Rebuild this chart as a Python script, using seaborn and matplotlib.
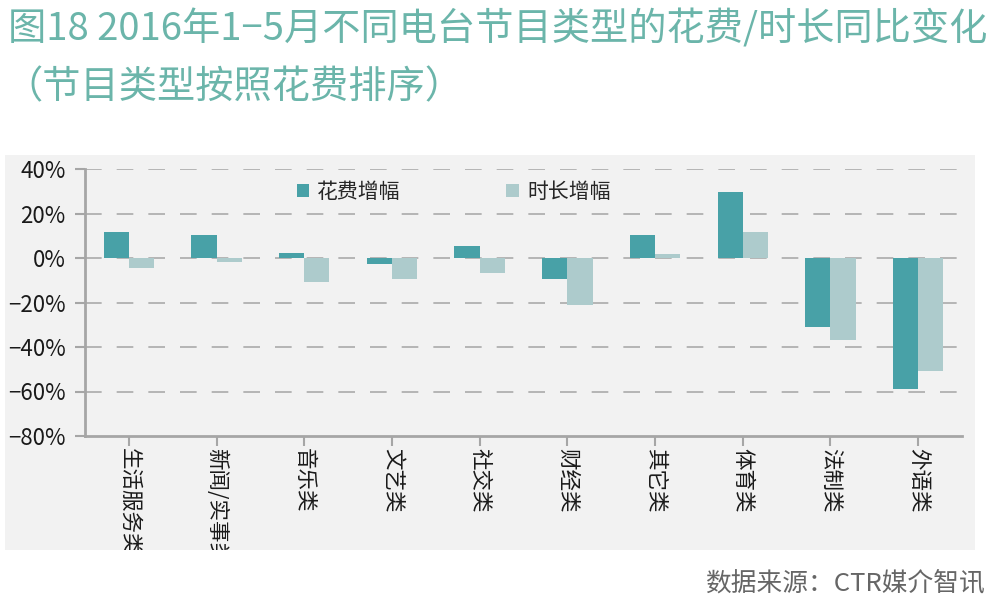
import matplotlib
matplotlib.use("Agg")
import matplotlib.pyplot as plt
import seaborn as sns
import pandas as pd
from matplotlib.patches import Rectangle
from matplotlib.ticker import FuncFormatter

categories = ["生活服务类", "新闻/实事类", "音乐类", "文艺类", "社交类",
              "财经类", "其它类", "体育类", "法制类", "外语类"]
spend_growth = [11.7, 10.2, 2.2, -2.5, 5.4, -9.3, 10.5, 29.5, -31.2, -58.7]
duration_growth = [-4.3, -1.6, -10.6, -9.3, -6.6, -21.0, 1.6, 11.7, -36.9, -51.0]
series_names = ["花费增幅", "时长增幅"]
yticks = [40, 20, 0, -20, -40, -60, -80]

df = pd.DataFrame({
    "category": categories * 2,
    "value": spend_growth + duration_growth,
    "series": [series_names[0]] * len(categories) + [series_names[1]] * len(categories),
})

sns.set_theme(style="white")
plt.rcParams["font.family"] = ["Noto Sans CJK SC", "DejaVu Sans"]
plt.rcParams["axes.unicode_minus"] = True

W, H = 998, 611
fig = plt.figure(figsize=(W / 100, H / 100), dpi=100)
fig.patch.set_facecolor("white")

# grey panel
fig.patches.append(Rectangle((5 / W, 1 - 550 / H), 970 / W, 395 / H,
                             transform=fig.transFigure, facecolor="#F2F2F2",
                             edgecolor="none", zorder=-10))

ax = fig.add_axes([85 / W, 1 - 436 / H, 877 / W, 267 / H])
ax.set_facecolor("none")

palette = {series_names[0]: "#48A1A7", series_names[1]: "#ADCBCC"}
sns.barplot(data=df, x="category", y="value", hue="series", order=categories,
            hue_order=series_names, palette=palette, width=0.575, saturation=1,
            edgecolor="none", linewidth=0, ax=ax, legend=True)

ax.set_ylim(-80, 40)
ax.set_xlim(-0.5, len(categories) - 0.5)
ax.set_yticks(yticks)
ax.yaxis.set_major_formatter(FuncFormatter(lambda v, p: f"{int(v)}%".replace("-", "−")))
ax.set_xlabel("")
ax.set_ylabel("")

for y in yticks:
    if y != -80:
        ax.axhline(y, color="#ABABAB", lw=1.2, dashes=(10, 9), zorder=0)

for s in ["top", "right"]:
    ax.spines[s].set_visible(False)
for s in ["left", "bottom"]:
    ax.spines[s].set_color("#A6A6A6")
    ax.spines[s].set_linewidth(2)

ax.tick_params(axis="y", which="both", left=True, length=7, width=1.5,
               color="#A6A6A6", labelsize=16, labelcolor="#1a1a1a", pad=7)
ax.tick_params(axis="x", which="both", bottom=True, length=7, width=1.5,
               color="#A6A6A6", labelsize=15.5, labelcolor="#1a1a1a", pad=2)
for lab in ax.get_xticklabels():
    lab.set_rotation(-90)
    lab.set_va("top")
    lab.set_ha("center")
    lab.set_rotation_mode("default")

handles, labels = ax.get_legend_handles_labels()
ax.legend(handles, labels, ncol=2, loc="upper left",
          bbox_to_anchor=(197 / 877, 1.01), frameon=False, fontsize=15,
          handlelength=0.6, handleheight=0.6, handletextpad=0.4,
          columnspacing=5.05, borderaxespad=0.3)

# white cover to clip labels below the panel
fig.patches.append(Rectangle((0, 0), 1, 1 - 550 / H, transform=fig.transFigure,
                             facecolor="white", edgecolor="none", zorder=5))

title_color = "#6BB5AA"
fig.text(8 / W, 1 - 30 / H, "图18 2016年1−5月不同电台节目类型的花费/时长同比变化",
         fontsize=27.5, color=title_color, va="center", ha="left")
fig.text(4 / W, 1 - 88 / H, "（节目类型按照花费排序）",
         fontsize=27.5, color=title_color, va="center", ha="left")
fig.text(985 / W, 1 - 583 / H, "数据来源：CTR媒介智讯", fontsize=18.5,
         color="#666666", va="center", ha="right", zorder=6)

fig.savefig("out.png", dpi=100)
